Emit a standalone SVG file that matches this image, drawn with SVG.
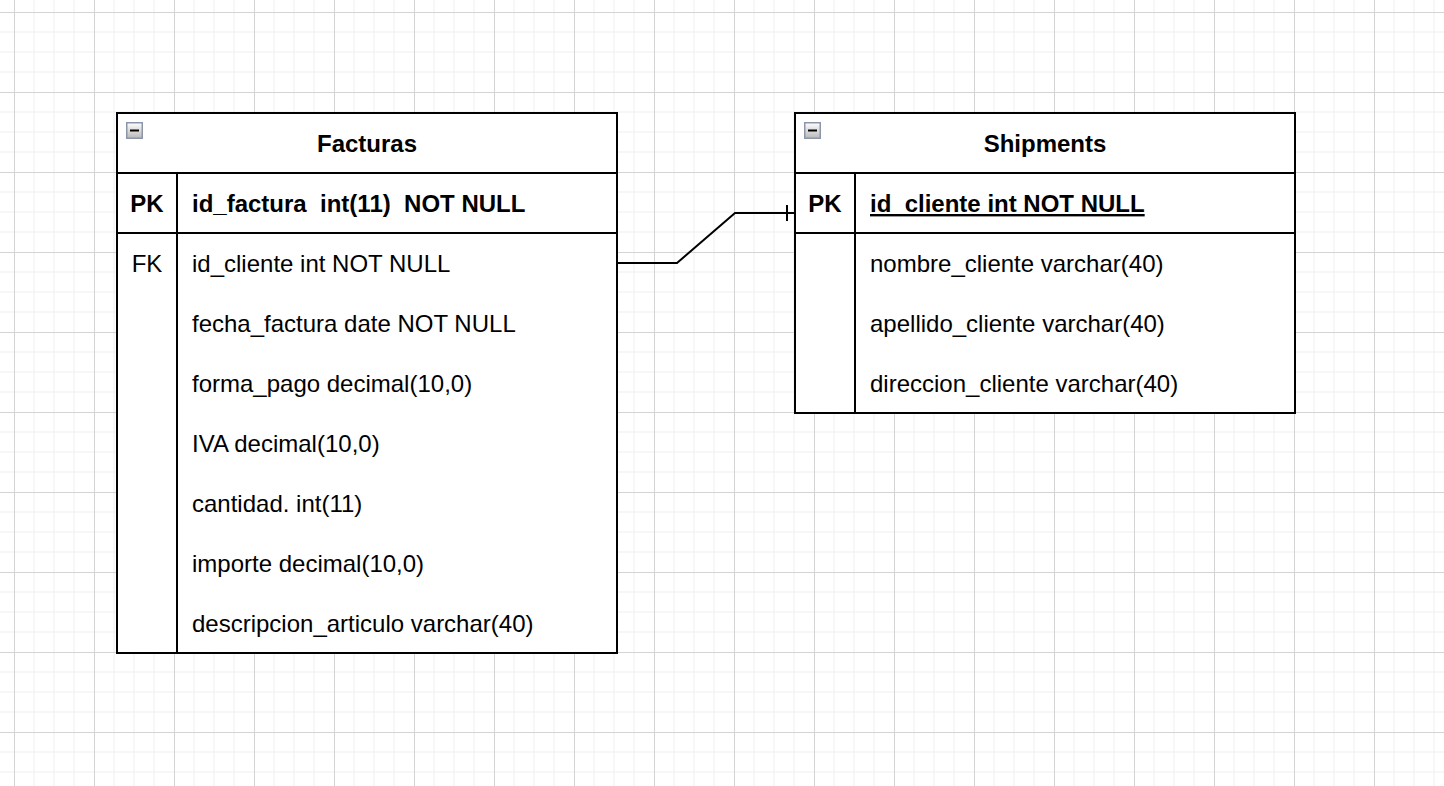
<svg xmlns="http://www.w3.org/2000/svg" width="1444" height="786" viewBox="0 0 1444 786">
<defs>
<pattern id="grid" patternUnits="userSpaceOnUse" x="14" y="12" width="80" height="80">
<path d="M20 0V80M40 0V80M60 0V80M0 20H80M0 40H80M0 60H80" stroke="#efefef" stroke-width="1" fill="none"/>
<path d="M0.5 0V80M0 0.5H80" stroke="#d4d4d4" stroke-width="1" fill="none"/>
</pattern>
<linearGradient id="ig" x1="0" y1="0" x2="0" y2="1">
<stop offset="0" stop-color="#ffffff"/>
<stop offset="1" stop-color="#b8b8b8"/>
</linearGradient>
<g id="minus">
<rect x="0.75" y="0.75" width="15.5" height="15.5" fill="url(#ig)" stroke="#8d96a8" stroke-width="1.5"/>
<path d="M4 8.5H13" stroke="#000" stroke-width="2"/>
</g>
</defs>
<style>
.box{fill:#ffffff;stroke:#000;stroke-width:2}
.ln{stroke:#000;stroke-width:2;fill:none}
text{font-family:"Liberation Sans",Arial,Helvetica,sans-serif;font-size:24px;fill:#000;white-space:pre}
.b{font-weight:bold}
.c{text-anchor:middle}
</style>
<rect x="0" y="0" width="1444" height="786" fill="#ffffff"/>
<rect x="0" y="0" width="1444" height="786" fill="url(#grid)"/>

<g id="connectors">
<path class="ln" d="M617 263H677L735 213H795"/>
<path class="ln" d="M787 205V221"/>
</g>

<g id="facturas">
<rect class="box" x="117" y="113" width="500" height="540"/>
<path class="ln" d="M117 173H617M117 233H617M177 173V653"/>
<use href="#minus" x="126" y="122"/>
<text class="b c" x="367" y="152">Facturas</text>
<text class="b c" x="147" y="212">PK</text>
<text class="b" x="192" y="212">id_factura  int(11)  NOT NULL</text>
<text class="c" x="147" y="272">FK</text>
<text x="192" y="272">id_cliente int NOT NULL</text>
<text x="192" y="332">fecha_factura date NOT NULL</text>
<text x="192" y="392">forma_pago decimal(10,0)</text>
<text x="192" y="452">IVA decimal(10,0)</text>
<text x="192" y="512">cantidad. int(11)</text>
<text x="192" y="572">importe decimal(10,0)</text>
<text x="192" y="632">descripcion_articulo varchar(40)</text>
</g>

<g id="shipments">
<rect class="box" x="795" y="113" width="500" height="300"/>
<path class="ln" d="M795 173H1295M795 233H1295M855 173V413"/>
<use href="#minus" x="804" y="122"/>
<text class="b c" x="1045" y="152">Shipments</text>
<text class="b c" x="825" y="212">PK</text>
<text class="b" x="870" y="212" text-decoration="underline">id_cliente int NOT NULL</text>
<text x="870" y="272">nombre_cliente varchar(40)</text>
<text x="870" y="332">apellido_cliente varchar(40)</text>
<text x="870" y="392">direccion_cliente varchar(40)</text>
</g>
</svg>
